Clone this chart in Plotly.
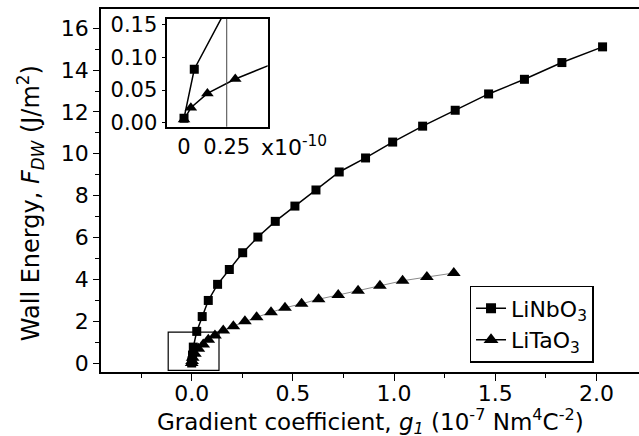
import plotly.graph_objects as go

# Main data
nb_x = [0.0, 0.001, 0.004, 0.008, 0.025, 0.052, 0.082, 0.128, 0.186, 0.252, 0.327, 0.413,
        0.510, 0.614, 0.729, 0.859, 0.993, 1.141, 1.302, 1.467, 1.644, 1.829, 2.030]
nb_y = [0.0, 0.10, 0.38, 0.76, 1.51, 2.22, 2.99, 3.76, 4.47, 5.27, 6.02, 6.77,
        7.50, 8.27, 9.13, 9.80, 10.56, 11.32, 12.08, 12.86, 13.56, 14.36, 15.11]
ta_x = [0.0, 0.002, 0.005, 0.016, 0.033, 0.057, 0.082, 0.115, 0.156, 0.206, 0.263, 0.321,
        0.392, 0.461, 0.543, 0.627, 0.724, 0.822, 0.930, 1.042, 1.162, 1.295]
ta_y = [0.0, 0.10, 0.25, 0.44, 0.68, 0.89, 1.11, 1.32, 1.55, 1.76, 1.99, 2.19,
        2.42, 2.64, 2.83, 3.05, 3.25, 3.45, 3.69, 3.93, 4.11, 4.30]

# Inset data (x in units of 1e-10)
in_nb_x = [0.0, 0.06, 0.32]
in_nb_y = [0.007, 0.082, 0.21]
in_ta_x = [0.0, 0.04, 0.137, 0.30, 0.60]
in_ta_y = [0.005, 0.023, 0.045, 0.067, 0.099]

# Zoom box region in main plot and inset reference line
box_x = [-0.116, 0.135]
box_y = [-0.35, 1.48]
inset_ref_x = 0.25

FONT = "DejaVu Sans"
X_TITLE = "Gradient coefficient, <i>g<sub>1</sub></i> (10<sup>-7</sup> Nm<sup>4</sup>C<sup>-2</sup>)"
Y_TITLE = "Wall Energy, <i>F<sub>DW</sub></i> (J/m<sup>2</sup>)"

fig = go.Figure()

fig.add_trace(go.Scatter(x=nb_x, y=nb_y, mode="lines+markers", showlegend=False,
                         line=dict(color="black", width=1.5),
                         marker=dict(symbol="square", size=9, color="black")))
fig.add_trace(go.Scatter(x=ta_x, y=ta_y, mode="lines+markers", showlegend=False,
                         line=dict(color="#8a8a8a", width=1),
                         marker=dict(symbol="triangle-up", size=12, color="black")))

# legend proxies (no data)
fig.add_trace(go.Scatter(x=[None], y=[None], mode="lines+markers", name="LiNbO<sub>3</sub>",
                         line=dict(color="black", width=1.5),
                         marker=dict(symbol="square", size=10, color="black")))
fig.add_trace(go.Scatter(x=[None], y=[None], mode="lines+markers", name="LiTaO<sub>3</sub>",
                         line=dict(color="black", width=1.5),
                         marker=dict(symbol="triangle-up", size=13, color="black")))

fig.add_trace(go.Scatter(x=in_nb_x, y=in_nb_y, mode="lines+markers", showlegend=False,
                         xaxis="x2", yaxis="y2",
                         line=dict(color="black", width=1.5),
                         marker=dict(symbol="square", size=9, color="black")))
fig.add_trace(go.Scatter(x=in_ta_x, y=in_ta_y, mode="lines+markers", showlegend=False,
                         xaxis="x2", yaxis="y2",
                         line=dict(color="black", width=1.5),
                         marker=dict(symbol="triangle-up", size=11, color="black")))

fig.add_shape(type="rect", xref="x", yref="y", x0=box_x[0], x1=box_x[1], y0=box_y[0], y1=box_y[1],
              line=dict(color="black", width=1.2), fillcolor="rgba(0,0,0,0)")
fig.add_shape(type="line", xref="x2", yref="y2 domain", x0=inset_ref_x, x1=inset_ref_x, y0=0, y1=1,
              line=dict(color="#444", width=1))

fig.add_annotation(text="x10<sup>-10</sup>", xref="paper", yref="paper",
                   x=0.293, y=0.622, xanchor="left", yanchor="middle", showarrow=False,
                   font=dict(family=FONT, size=22, color="black"))
fig.add_annotation(text=X_TITLE, xref="paper", yref="paper",
                   x=0.50, y=-0.135, xanchor="center", yanchor="middle", showarrow=False,
                   font=dict(family=FONT, size=23, color="black"))
fig.add_annotation(text=Y_TITLE, xref="paper", yref="paper", textangle=-90,
                   x=-0.132, y=0.465, xanchor="center", yanchor="middle", showarrow=False,
                   font=dict(family=FONT, size=24, color="black"))

fig.update_layout(
    width=639, height=436,
    margin=dict(l=101, r=0, t=9, b=64, autoexpand=False),
    paper_bgcolor="white", plot_bgcolor="white",
    font=dict(family=FONT, size=22, color="black"),
    xaxis=dict(range=[-0.448, 2.21], tickvals=[0.0, 0.5, 1.0, 1.5, 2.0],
               ticktext=["0.0", "0.5", "1.0", "1.5", "2.0"],
               ticks="outside", ticklen=7, tickwidth=1.3, tickcolor="black",
               minor=dict(tickvals=[-0.25, 0.25, 0.75, 1.25, 1.75], ticks="outside", ticklen=4,
                          tickcolor="black", tickwidth=1.3),
               showline=True, linecolor="black", linewidth=1.5, mirror=True,
               showgrid=False, zeroline=False, tickfont=dict(size=22), automargin=False,
               ticklabelstandoff=-6),
    yaxis=dict(range=[-0.43, 16.92], tickvals=[0, 2, 4, 6, 8, 10, 12, 14, 16],
               ticks="outside", ticklen=6, tickwidth=1.3, tickcolor="black",
               minor=dict(tickvals=[1, 3, 5, 7, 9, 11, 13, 15], ticks="outside", ticklen=4,
                          tickcolor="black", tickwidth=1.3),
               showline=True, linecolor="black", linewidth=1.5, automargin=False,
               showgrid=False, zeroline=False, tickfont=dict(size=22)),
    xaxis2=dict(domain=[0.1232, 0.3099], anchor="y2", range=[-0.098, 0.49],
                tickvals=[0, 0.25], ticktext=["0", "0.25"], ticks="",
                showline=True, linecolor="black", linewidth=1.5, mirror=True,
                showgrid=False, zeroline=False, tickfont=dict(size=21)),
    yaxis2=dict(domain=[0.6758, 0.9725], anchor="x2", range=[-0.006, 0.159],
                tickvals=[0.0, 0.05, 0.10, 0.15], ticktext=["0.00", "0.05", "0.10", "0.15"],
                ticks="outside", ticklen=4, tickcolor="black",
                showline=True, linecolor="black", linewidth=1.5, mirror=True,
                showgrid=False, zeroline=False, tickfont=dict(size=21)),
    legend=dict(x=0.685, y=0.237, xanchor="left", yanchor="top",
                bgcolor="white", bordercolor="black", borderwidth=1.5,
                font=dict(size=22), tracegroupgap=0),
    showlegend=True,
)

fig.write_html("out.html")
